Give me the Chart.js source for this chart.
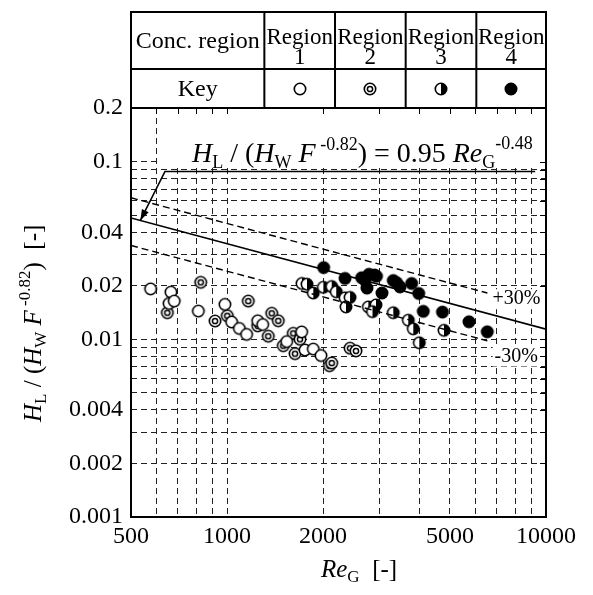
<!DOCTYPE html>
<html><head><meta charset="utf-8">
<script src="https://cdn.jsdelivr.net/npm/chart.js@4/dist/chart.umd.min.js"></script>
<style>html,body{margin:0;padding:0;background:#fff;}#wrap{position:relative;width:593px;height:595px;}</style>
</head><body><div id="wrap"><canvas id="c" width="593" height="595"></canvas></div>
<script>
// ---- data ----
const region1Re = [576, 658, 667, 683, 813, 985, 1034, 1093, 1152, 1248, 1294, 1539, 1714, 1755, 1864, 1970];
const region1H  = [0.0192, 0.0159, 0.0184, 0.0164, 0.0144, 0.0157, 0.0125, 0.0115, 0.01065, 0.0127, 0.0121, 0.0097, 0.0110, 0.0087, 0.0088, 0.0081];
const region2Re = [650, 827, 917, 1002, 1166, 1248, 1347, 1381, 1448, 1501, 1613, 1634, 1693, 2095, 2129, 2430, 2537];
const region2H  = [0.0141, 0.0209, 0.01266, 0.01356, 0.0164, 0.0119, 0.0104, 0.0140, 0.0127, 0.0092, 0.0108, 0.0083, 0.0100, 0.0071, 0.00735, 0.0089, 0.0086];
const region3Re = [1718, 1781, 1864, 2004, 2129, 2200, 2344, 2430, 2360, 2773, 2931, 2858, 3320, 3701, 3837, 4006, 4788];
const region3H  = [0.0206, 0.0204, 0.0182, 0.0196, 0.0198, 0.0185, 0.0171, 0.0172, 0.0152, 0.0152, 0.0156, 0.0143, 0.0141, 0.0128, 0.01144, 0.00955, 0.01122];
const region4Re = [2009, 2344, 2643, 2707, 2746, 2786, 2899, 2941, 3060, 3320, 3403, 3485, 3792, 3990, 4124, 4737, 5734, 6546];
const region4H  = [0.0253, 0.0220, 0.0222, 0.0215, 0.0194, 0.0232, 0.0230, 0.0226, 0.0182, 0.0214, 0.0208, 0.0197, 0.0206, 0.0181, 0.01436, 0.01422, 0.01254, 0.01102];
const fitRe = [500, 10000];
const fitH  = [0.0481, 0.0114];
const plusRe = [500, 6550];
const plusH  = [0.0625, 0.0182];
const minusRe = [500, 6550];
const minusH  = [0.0337, 0.0098];
const xGridValues = [500,600,700,800,900,1000,2000,3000,4000,5000,6000,7000,8000,9000,10000];
const xTickLabels = [500,1000,2000,5000,10000];
const yGridValues = [0.001,0.002,0.003,0.004,0.005,0.006,0.007,0.008,0.009,0.01,0.02,0.03,0.04,0.05,0.06,0.07,0.08,0.09,0.1,0.2];
const yTickLabels = [0.001,0.002,0.004,0.01,0.02,0.04,0.1,0.2];
const tableHeader = ['Conc. region', 'Region', 'Region', 'Region', 'Region'];
const tableNumbers = ['', '1', '2', '3', '4'];
const keyLabel = 'Key';
// leader / arrow annotation (data coords)
const leaderStart = {x: 639, y: 0.0879};
const leaderEnd = {x: 9250, y: 0.0879};
const arrowTip = {x: 535, y: 0.0466};
const plusLabel = {x: 6800, y: 0.0168, text: '+30%'};
const minusLabel = {x: 6900, y: 0.0080, text: '-30%'};

const SERIF = '"Liberation Serif", "DejaVu Serif", serif';

function makeMarker(kind){
  const s = 18, c = document.createElement('canvas'); c.width = s; c.height = s;
  const g = c.getContext('2d'); const cx = 9, cy = 9, r = 5.7;
  g.lineWidth = 1.6; g.strokeStyle = '#000';
  g.fillStyle = kind === 'filled' ? '#000' : '#fff';
  g.beginPath(); g.arc(cx, cy, r, 0, 2*Math.PI); g.fill();
  if (kind === 'half') {
    g.fillStyle = '#000'; g.beginPath(); g.arc(cx, cy, r, -Math.PI/2, Math.PI/2); g.closePath(); g.fill();
  }
  g.beginPath(); g.arc(cx, cy, r, 0, 2*Math.PI); g.stroke();
  if (kind === 'double') { g.lineWidth = 1.5; g.beginPath(); g.arc(cx, cy, 2.6, 0, 2*Math.PI); g.stroke(); }
  return c;
}
const markers = {open: makeMarker('open'), double: makeMarker('double'), half: makeMarker('half'), filled: makeMarker('filled')};
const keyKinds = ['open', 'double', 'half', 'filled'];

function pts(xs, ys){ return xs.map((x, i) => ({x: x, y: ys[i]})); }

function drawRich(ctx, parts, x, y){
  let cx = x;
  for (const p of parts) {
    ctx.font = p.f;
    ctx.fillText(p.t, cx, y + (p.dy || 0));
    cx += ctx.measureText(p.t).width + (p.gap || 0);
  }
  return cx;
}

function labelWithBg(ctx, text, px, py){
  const w = ctx.measureText(text).width;
  ctx.fillStyle = '#fff';
  ctx.fillRect(px - 2, py - 10, w + 4, 20);
  ctx.fillStyle = '#000';
  ctx.fillText(text, px, py);
}

const overlay = {
  id: 'overlay',
  beforeDatasetsDraw(chart){
    const {ctx, chartArea: a, scales: {x, y}} = chart;
    ctx.save();
    // white box behind the equation
    const bx = x.getPixelForValue(620), by = y.getPixelForValue(0.092);
    ctx.fillStyle = '#fff';
    ctx.fillRect(bx, a.top + 1, a.right - bx - 1, by - a.top - 1);
    // inward ticks on top and right
    ctx.strokeStyle = '#000'; ctx.lineWidth = 1;
    for (const v of xGridValues) {
      const px = Math.round(x.getPixelForValue(v)) + 0.5;
      ctx.beginPath(); ctx.moveTo(px, a.top); ctx.lineTo(px, a.top + 6); ctx.stroke();
    }
    for (const v of yGridValues) {
      const py = Math.round(y.getPixelForValue(v)) + 0.5;
      ctx.beginPath(); ctx.moveTo(a.right, py); ctx.lineTo(a.right - 6, py); ctx.stroke();
    }
    // leader line and arrow
    const sx = x.getPixelForValue(leaderStart.x), sy = y.getPixelForValue(leaderStart.y);
    const ex = x.getPixelForValue(leaderEnd.x);
    const tx = x.getPixelForValue(arrowTip.x), ty = y.getPixelForValue(arrowTip.y);
    ctx.lineWidth = 1.6;
    ctx.beginPath(); ctx.moveTo(ex, sy); ctx.lineTo(sx, sy); ctx.lineTo(tx, ty); ctx.stroke();
    const ang = Math.atan2(ty - sy, tx - sx);
    const L = 11, W = 3.8;
    ctx.fillStyle = '#000';
    ctx.beginPath();
    ctx.moveTo(tx, ty);
    ctx.lineTo(tx - L*Math.cos(ang) + W*Math.sin(ang), ty - L*Math.sin(ang) - W*Math.cos(ang));
    ctx.lineTo(tx - L*Math.cos(ang) - W*Math.sin(ang), ty - L*Math.sin(ang) + W*Math.cos(ang));
    ctx.closePath(); ctx.fill();
    // equation
    ctx.fillStyle = '#000'; ctx.textBaseline = 'alphabetic'; ctx.textAlign = 'left';
    const M = 'italic 28px ' + SERIF, R = '28px ' + SERIF, S = '18px ' + SERIF;
    drawRich(ctx, [
      {t: 'H', f: M}, {t: 'L', f: S, dy: 6}, {t: ' / (', f: R}, {t: 'H', f: M}, {t: 'W', f: S, dy: 6},
      {t: ' ', f: R}, {t: 'F', f: M}, {t: ' -0.82', f: S, dy: -12}, {t: ')', f: R}, {t: ' = 0.95 ', f: R},
      {t: 'Re', f: M}, {t: 'G', f: S, dy: 6}, {t: '-0.48', f: S, dy: -13}
    ], 192, 162);
    // +/-30% labels
    ctx.font = '20px ' + SERIF; ctx.textBaseline = 'middle';
    labelWithBg(ctx, plusLabel.text, x.getPixelForValue(plusLabel.x), y.getPixelForValue(plusLabel.y));
    labelWithBg(ctx, minusLabel.text, x.getPixelForValue(minusLabel.x), y.getPixelForValue(minusLabel.y));
    ctx.restore();
  },
  afterDraw(chart){
    const {ctx, chartArea: a} = chart;
    ctx.save();
    ctx.strokeStyle = '#000'; ctx.lineWidth = 2;
    ctx.strokeRect(a.left, a.top, a.right - a.left, a.bottom - a.top);
    // table
    const tTop = 12, tMid = 69, tBot = a.top;
    const fr = [0, 134, 205, 276, 347, 417];
    const cols = fr.map(f => a.left + (a.right - a.left) * f / 417);
    ctx.strokeRect(a.left, tTop, a.right - a.left, tBot - tTop);
    ctx.beginPath();
    ctx.moveTo(a.left, tMid); ctx.lineTo(a.right, tMid);
    for (let i = 1; i < cols.length - 1; i++) { ctx.moveTo(cols[i], tTop); ctx.lineTo(cols[i], tBot); }
    ctx.stroke();
    ctx.fillStyle = '#000'; ctx.textAlign = 'center'; ctx.textBaseline = 'alphabetic';
    ctx.font = '24px ' + SERIF;
    ctx.fillText(tableHeader[0], (cols[0] + cols[1]) / 2, 48);
    ctx.fillText(keyLabel, (cols[0] + cols[1]) / 2, 96);
    ctx.font = '23px ' + SERIF;
    for (let i = 1; i < 5; i++) {
      const cx = (cols[i] + cols[i+1]) / 2;
      ctx.fillText(tableHeader[i], cx, 44);
      ctx.fillText(tableNumbers[i], cx, 64);
      const m = markers[keyKinds[i-1]];
      ctx.drawImage(m, Math.round(cx - m.width/2), Math.round(88.5 - m.height/2));
    }
    // x title
    ctx.textAlign = 'left';
    drawRich(ctx, [
      {t: 'Re', f: 'italic 25px ' + SERIF}, {t: 'G', f: '17px ' + SERIF, dy: 5}, {t: '  [-]', f: '25px ' + SERIF}
    ], 321, 577);
    // y title
    ctx.translate(41, 422); ctx.rotate(-Math.PI/2);
    const YM = 'italic 25px ' + SERIF, YR = '25px ' + SERIF, YS = '17px ' + SERIF;
    drawRich(ctx, [
      {t: 'H', f: YM}, {t: 'L', f: YS, dy: 5}, {t: ' / (', f: YR}, {t: 'H', f: YM}, {t: 'W', f: YS, dy: 5},
      {t: ' ', f: YR}, {t: 'F', f: YM}, {t: ' -0.82', f: YS, dy: -11}, {t: ')', f: YR}, {t: '  [-]', f: YR}
    ], 0, 0);
    ctx.restore();
  }
};

const gridCommon = {color: '#222', lineWidth: 1, drawTicks: false};
new Chart(document.getElementById('c'), {
  type: 'scatter',
  data: {
    datasets: [
      {label: 'fit', data: pts(fitRe, fitH), showLine: true, borderColor: '#000', borderWidth: 1.6, pointRadius: 0, fill: false},
      {label: '+30%', data: pts(plusRe, plusH), showLine: true, borderColor: '#000', borderWidth: 1.4, borderDash: [7, 4], pointRadius: 0, fill: false},
      {label: '-30%', data: pts(minusRe, minusH), showLine: true, borderColor: '#000', borderWidth: 1.4, borderDash: [7, 4], pointRadius: 0, fill: false},
      {label: 'Region 1', data: pts(region1Re, region1H), pointStyle: markers.open},
      {label: 'Region 2', data: pts(region2Re, region2H), pointStyle: markers.double},
      {label: 'Region 3', data: pts(region3Re, region3H), pointStyle: markers.half},
      {label: 'Region 4', data: pts(region4Re, region4H), pointStyle: markers.filled}
    ]
  },
  options: {
    responsive: false, animation: false, devicePixelRatio: 1,
    layout: {padding: {left: 0, right: 47, top: 108, bottom: 0}},
    plugins: {legend: {display: false}, tooltip: {enabled: false}},
    scales: {
      x: {
        type: 'logarithmic', min: 500, max: 10000,
        afterBuildTicks: s => { s.ticks = xGridValues.map(v => ({value: v})); },
        afterFit: s => { s.height = 78; },
        ticks: {autoSkip: false, maxRotation: 0, padding: 5, color: '#000', font: {family: SERIF, size: 24},
          callback: v => xTickLabels.includes(v) ? String(v) : ''},
        grid: gridCommon, border: {display: false, dash: [6, 4]}
      },
      y: {
        type: 'logarithmic', min: 0.001, max: 0.2,
        afterBuildTicks: s => { s.ticks = yGridValues.map(v => ({value: v})); },
        afterFit: s => { s.width = 131; },
        ticks: {autoSkip: false, padding: 8, color: '#000', font: {family: SERIF, size: 24},
          callback: v => yTickLabels.includes(v) ? String(v) : ''},
        grid: gridCommon, border: {display: false, dash: [6, 4]}
      }
    }
  },
  plugins: [overlay]
});
</script></body></html>
